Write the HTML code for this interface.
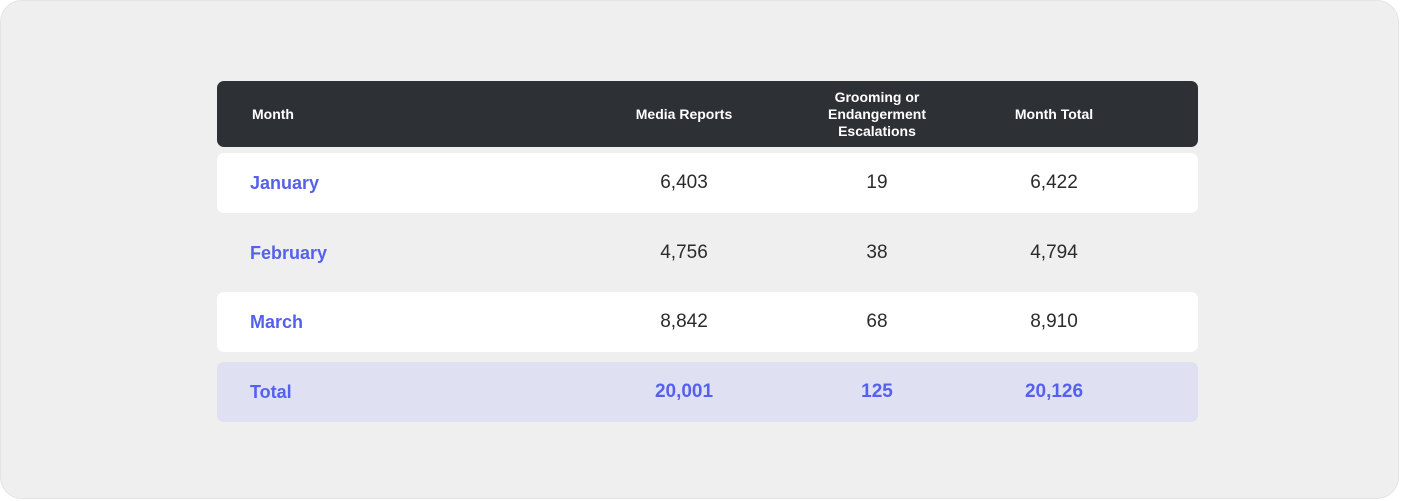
<!DOCTYPE html>
<html><head><meta charset="utf-8"><style>
body{margin:0;width:1401px;height:501px;background:#fff;font-family:"Liberation Sans",sans-serif;overflow:hidden}
#panel{position:absolute;left:0;top:0;width:1399px;height:499px;background:#efefef;border-radius:22px;border:1px solid #e4e4e4;box-sizing:border-box}
.row{position:absolute;left:216px;width:981px;height:60px;border-radius:7px}
.cell{position:absolute;top:0;height:100%;display:flex;align-items:center;justify-content:center;font-size:19px;color:#2b2b2b}
.m{left:33px;justify-content:flex-start;color:#5660ee;font-weight:bold;font-size:18px}
.c1{left:417px;width:100px}.c2{left:610px;width:100px}.c3{left:787px;width:100px}
.hd .cell{color:#fff;font-weight:bold;font-size:14px;text-align:center;line-height:17px}
.tot .cell{color:#5660ee;font-weight:bold}
</style></head><body>
<div id="panel">
<div class="row hd" style="top:80px;height:66px;background:#2d3035">
<div class="cell m" style="color:#fff;font-size:14px;left:35px">Month</div>
<div class="cell c1" style="left:397px;width:140px">Media Reports</div>
<div class="cell c2" style="left:590px;width:140px">Grooming or<br>Endangerment<br>Escalations</div>
<div class="cell c3" style="left:767px;width:140px">Month Total</div>
</div>
<div class="row" style="top:152px;background:#fff">
<div class="cell m">January</div>
<div class="cell c1">6,403</div>
<div class="cell c2">19</div>
<div class="cell c3">6,422</div>
</div>
<div class="row" style="top:222px">
<div class="cell m">February</div>
<div class="cell c1">4,756</div>
<div class="cell c2">38</div>
<div class="cell c3">4,794</div>
</div>
<div class="row" style="top:291px;background:#fff">
<div class="cell m">March</div>
<div class="cell c1">8,842</div>
<div class="cell c2">68</div>
<div class="cell c3">8,910</div>
</div>
<div class="row tot" style="top:361px;background:#dfe1f2">
<div class="cell m">Total</div>
<div class="cell c1">20,001</div>
<div class="cell c2">125</div>
<div class="cell c3">20,126</div>
</div>
</div>
</body></html>
